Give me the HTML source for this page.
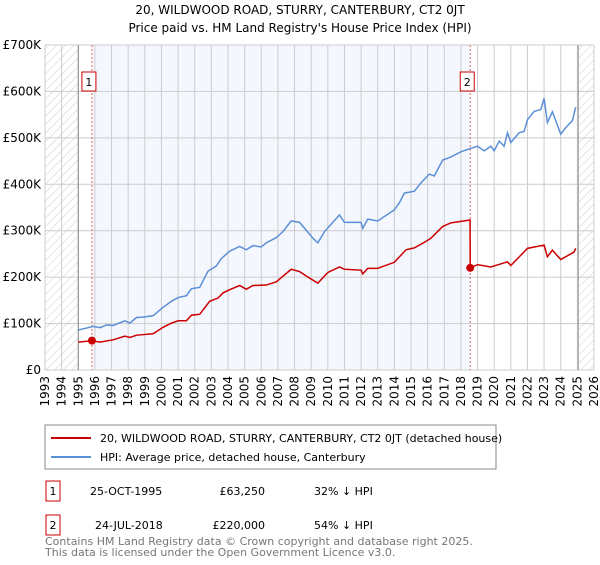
<!DOCTYPE html>
<html><head><meta charset="utf-8"><style>
body{margin:0;background:#fff;font-family:"Liberation Sans","DejaVu Sans",sans-serif}
svg text{font-family:"DejaVu Sans","Liberation Sans",sans-serif}
</style></head><body>
<svg id="c" width="600" height="560" viewBox="0 0 600 560">
<defs><pattern id="hatch" width="6" height="6" patternUnits="userSpaceOnUse" patternTransform="rotate(45)"><line x1="0" y1="0" x2="0" y2="6" stroke="#ccc" stroke-width="1"/></pattern></defs>
<text x="300" y="14" text-anchor="middle" font-size="12">20, WILDWOOD ROAD, STURRY, CANTERBURY, CT2 0JT</text>
<text x="300" y="32" text-anchor="middle" font-size="12">Price paid vs. HM Land Registry's House Price Index (HPI)</text>
<g id="plot"></g>
<rect x="45" y="425" width="451" height="44" fill="#fff" stroke="#888"/>
<line x1="51" y1="438" x2="91" y2="438" stroke="#cc0000" stroke-width="2"/>
<text x="100" y="442" font-size="11">20, WILDWOOD ROAD, STURRY, CANTERBURY, CT2 0JT (detached house)</text>
<line x1="51" y1="457" x2="91" y2="457" stroke="#5b8fd6" stroke-width="2"/>
<text x="100" y="461" font-size="11">HPI: Average price, detached house, Canterbury</text>
<g font-size="11">
<rect x="46" y="481" width="14" height="20" fill="#fff" stroke="#cc0000"/><text x="53" y="495" text-anchor="middle">1</text>
<text x="90" y="495">25-OCT-1995</text><text x="265" y="495" text-anchor="end">£63,250</text><text x="314" y="495">32% ↓ HPI</text>
<rect x="46" y="515" width="14" height="20" fill="#fff" stroke="#cc0000"/><text x="53" y="529" text-anchor="middle">2</text>
<text x="95" y="529">24-JUL-2018</text><text x="265" y="529" text-anchor="end">£220,000</text><text x="314" y="529">54% ↓ HPI</text>
</g>
<text x="45" y="545" font-size="11" fill="#777">Contains HM Land Registry data © Crown copyright and database right 2025.</text>
<text x="45" y="556" font-size="11" fill="#777">This data is licensed under the Open Government Licence v3.0.</text>
</svg>
<script>
const hpiYears=[1995.0,1995.9,1996.3,1996.7,1997.1,1997.8,1998.1,1998.5,1998.9,1999.5,2000.1,2000.6,2001.0,2001.5,2001.8,2002.3,2002.8,2003.3,2003.6,2004.1,2004.7,2005.1,2005.5,2006.0,2006.3,2006.9,2007.3,2007.8,2008.3,2009.1,2009.4,2009.8,2010.7,2011.0,2012.0,2012.1,2012.4,2013.0,2014.0,2014.3,2014.6,2015.2,2015.6,2016.1,2016.4,2016.9,2017.4,2018.0,2018.4,2019.0,2019.4,2019.8,2020.0,2020.3,2020.6,2020.8,2021.0,2021.5,2021.8,2022.0,2022.4,2022.8,2023.0,2023.2,2023.5,2024.0,2024.3,2024.7,2024.9];
const hpiValues=[86,94,91,97,96,106,101,113,114,117,135,148,156,160,175,178,213,224,240,256,266,259,268,265,274,285,298,321,318,284,274,298,334,318,318,305,325,321,345,360,381,385,403,422,418,452,459,470,475,482,472,482,472,493,482,511,490,511,514,539,557,561,585,533,556,508,522,537,566];
const priceYears=[1995.0,1995.8,1996.3,1997.1,1997.8,1998.1,1998.5,1999.5,2000.1,2000.6,2001.0,2001.5,2001.8,2002.3,2002.9,2003.4,2003.7,2004.1,2004.7,2005.1,2005.5,2006.3,2006.9,2007.8,2008.3,2008.9,2009.4,2010.0,2010.7,2011.0,2012.0,2012.1,2012.4,2013.0,2014.0,2014.7,2015.2,2015.9,2016.2,2016.9,2017.4,2018.0,2018.55,2018.56,2019.0,2019.8,2020.8,2021.0,2022.0,2023.0,2023.2,2023.5,2024.0,2024.8,2024.9];
const priceValues=[60,63,60,65,73,70,75,78,92,101,106,106,118,120,148,155,166,173,182,174,182,183,190,217,212,198,187,210,222,217,215,207,219,219,232,259,263,277,284,309,317,320,323,220,227,222,233,225,262,269,244,258,238,254,262];
const saleYears=[1995.82,2018.56];
const saleValues=[63.25,220];
const saleLabels=["1","2"];
const yTicks=[0,100,200,300,400,500,600,700];
const yTickLabels=["£0","£100K","£200K","£300K","£400K","£500K","£600K","£700K"];
const xTicks=[];for(let y=1993;y<=2026;y++)xTicks.push(y);

const X0=45,X1=594,Y0=370,Y1=45;
const xs=y=>X0+(y-1993)/(2026-1993)*(X1-X0);
const ys=v=>Y0-v/700*(Y0-Y1);
const g=document.getElementById('plot');const NS='http://www.w3.org/2000/svg';
function mk(t,a){const e=document.createElementNS(NS,t);for(const k in a)e.setAttribute(k,a[k]);g.appendChild(e);return e;}
let e;
e=mk('rect',{x:X0,y:Y1,width:X1-X0,height:Y0-Y1,fill:'#fff'});


e=mk('rect',{x:xs(saleYears[0]),y:Y1,width:xs(saleYears[1])-xs(saleYears[0]),height:Y0-Y1,fill:'#f4f7fe'});


e=mk('rect',{x:X0,y:Y1,width:xs(1995)-X0,height:Y0-Y1,fill:'url(#hatch)'});


e=mk('rect',{x:xs(2025.1),y:Y1,width:X1-xs(2025.1),height:Y0-Y1,fill:'url(#hatch)'});


xTicks.forEach(t=>{
 e=mk('line',{x1:xs(t),x2:xs(t),y1:Y1,y2:Y0,stroke:'#ccc','stroke-width':1});
 
 
 e=mk('text',{x:0,y:0,'font-size':12,'text-anchor':'end',transform:`translate(${xs(t)+4},${Y0+6}) rotate(-90)`});
 e.textContent=t;
 
 
});
yTicks.forEach((t,i)=>{
 e=mk('line',{x1:X0,x2:X1,y1:ys(t),y2:ys(t),stroke:'#ccc','stroke-width':1});
 
 
 e=mk('text',{x:X0-4,y:ys(t)+4,'font-size':12,'text-anchor':'end'});
 e.textContent=yTickLabels[i];
 
 
});
e=mk('line',{x1:xs(1995),x2:xs(1995),y1:Y1,y2:Y0,stroke:'#888'});


e=mk('line',{x1:xs(2025.05),x2:xs(2025.05),y1:Y1,y2:Y0,stroke:'#888'});


saleYears.forEach((y,i)=>{
 e=mk('line',{x1:xs(y),x2:xs(y),y1:Y1,y2:Y0,stroke:'#e06060','stroke-dasharray':'2,2'});
 
 
 e=mk('rect',{x:xs(y)-10,y:72,width:14,height:19,fill:'#fff',stroke:'#cc0000'});
 
 
 e=mk('text',{x:xs(y)-3,y:86,'font-size':11,'text-anchor':'middle'});
 e.textContent=saleLabels[i];
 
 
});
e=mk('polyline',{points:hpiYears.map((y,i)=>xs(y)+','+ys(hpiValues[i])).join(' '),fill:'none',stroke:'#5b8fd6','stroke-width':1.5});


e=mk('polyline',{points:priceYears.map((y,i)=>xs(y)+','+ys(priceValues[i])).join(' '),fill:'none',stroke:'#cc0000','stroke-width':1.5});


saleYears.forEach((y,i)=>{
 e=mk('circle',{cx:xs(y),cy:ys(saleValues[i]),r:4,fill:'#cc0000'});
 
 
});
</script>
</body></html>
